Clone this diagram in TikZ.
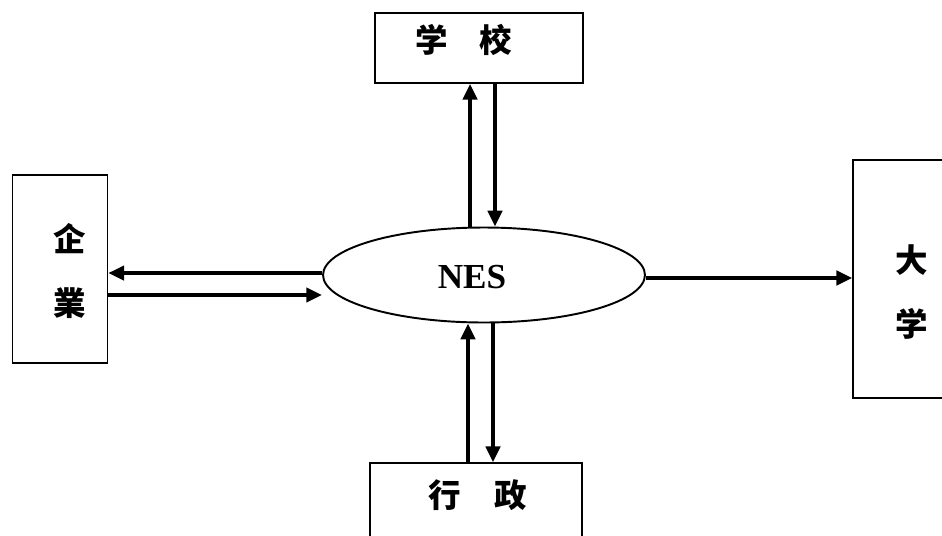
\documentclass[tikz,border=0pt]{standalone}
\usepackage{fontspec}
\setmainfont{Liberation Serif}
\newfontfamily\cjk{Noto Sans CJK SC}
\usetikzlibrary{shapes.geometric, arrows.meta, positioning}
\tikzset{
    chart/.style={x=0.02cm, y=-0.02cm},
    chart box/.style={draw, line width=0.9pt, inner sep=0pt},
    chart hub/.style={ellipse, draw, line width=1.1pt, inner sep=0pt,
        minimum width=6.44cm, minimum height=1.9cm},
    chart arrow/.style={-{Triangle[length=9pt, width=8pt]}, line width=2.3pt},
    chart label/.style={font=\cjk\bfseries\fontsize{18.5}{36}\selectfont, align=center, inner sep=0pt},
    chart title/.style={font=\bfseries\fontsize{20}{22}\selectfont, inner sep=0pt},
}

\begin{document}
\begin{tikzpicture}[chart]
    \useasboundingbox (0,0) rectangle (942,535);
    \clip (0,0) rectangle (942,535);
    \fill[white] (0,0) rectangle (942,535);

    % the hub and the four boxes round it
    \node[chart hub] (nes) at (484,275) {};
    \node[chart box, minimum width=4.16cm, minimum height=1.4cm] (school) at (479,48) {};
    \node[chart box, minimum width=1.9cm, minimum height=3.76cm] (firm) at (60,269) {};
    \node[chart box, minimum width=2.36cm, minimum height=4.76cm] (univ) at (912,279) {};
    \node[chart box, minimum width=4.24cm, minimum height=2cm] (admin) at (476,513) {};

    \node[chart title] (nestext) at (472,277) {NES};
    \node[chart label] (schooltext) at (464,40) {学\hspace{18pt}校};
    \node[chart label] (firmtext) at (70,271) {企\\業};
    \node[chart label] (univtext) at (912,292) {大\\学};
    \node[chart label] (admintext) at (478,495) {行\hspace{19pt}政};

    % flows
    \draw[chart arrow] (nes.north -| 470,0) -- (school.south -| 470,0);
    \draw[chart arrow] (school.south -| 495,0) -- (nes.north -| 495,0);
    \draw[chart arrow] (nes.west |- 0,273) -- (firm.east |- 0,273);
    \draw[chart arrow] (firm.east |- 0,295) -- (nes.west |- 0,295);
    \draw[chart arrow] (nes.east |- 0,278) -- (univ.west |- 0,278);
    \draw[chart arrow] (admin.north -| 468,0) -- (nes.south -| 468,0);
    \draw[chart arrow] (nes.south -| 493,0) -- (admin.north -| 493,0);
\end{tikzpicture}
\end{document}
